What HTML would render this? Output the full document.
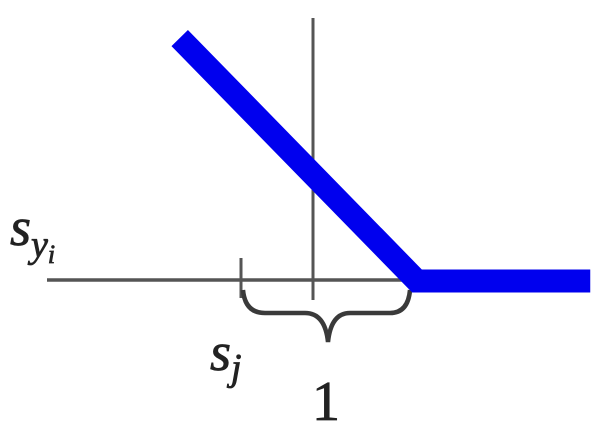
<!DOCTYPE html>
<html>
<head>
<meta charset="utf-8">
<style>
html,body{margin:0;padding:0;background:#fff;}
svg{display:block;}
text{font-family:"Liberation Serif",serif;fill:#222;stroke:#222;stroke-width:0.8;}
</style>
</head>
<body>
<svg id="chart" width="610" height="430" viewBox="0 0 610 430">
  <line x1="313" y1="18" x2="313" y2="300" stroke="#555" stroke-width="3"/>
  <line x1="47" y1="280" x2="415" y2="280" stroke="#555" stroke-width="3.5"/>
  <line x1="241" y1="258" x2="241" y2="298" stroke="#555" stroke-width="3"/>
  <path d="M243,290 Q245,313 265,313 L305,313 Q325,313 328,342 Q331,313 350,313 L390,313 Q408,313 410,290" fill="none" stroke="#3a3a3a" stroke-width="4.5"/>
  <g id="series"></g>
  <text x="10" y="245" font-size="54" font-style="italic">s<tspan font-size="38" dy="12">y</tspan><tspan font-size="26" dy="6">i</tspan></text>
  <text x="210" y="370" font-size="54" font-style="italic">s<tspan font-size="38" dy="10">j</tspan></text>
  <text x="312" y="420" font-size="56">1</text>
</svg>
<script>
const marginValues = [-1.26, 1, 2.65];
const lossValues = [2.26, 0, 0];
function xScale(v){ return 312 + v*105; }
function yScale(v){ return 281 - v*107.5; }
const g = document.getElementById('series');
const pts = marginValues.map((m,i)=>xScale(m)+','+yScale(lossValues[i])).join(' ');
const pl = document.createElementNS('http://www.w3.org/2000/svg','polyline');


pl.setAttribute('points', pts);
pl.setAttribute('fill','none');
pl.setAttribute('stroke','#0000ee');
pl.setAttribute('stroke-width','23');
pl.setAttribute('stroke-linejoin','miter');
g.appendChild(pl);
</script>
</body>
</html>
